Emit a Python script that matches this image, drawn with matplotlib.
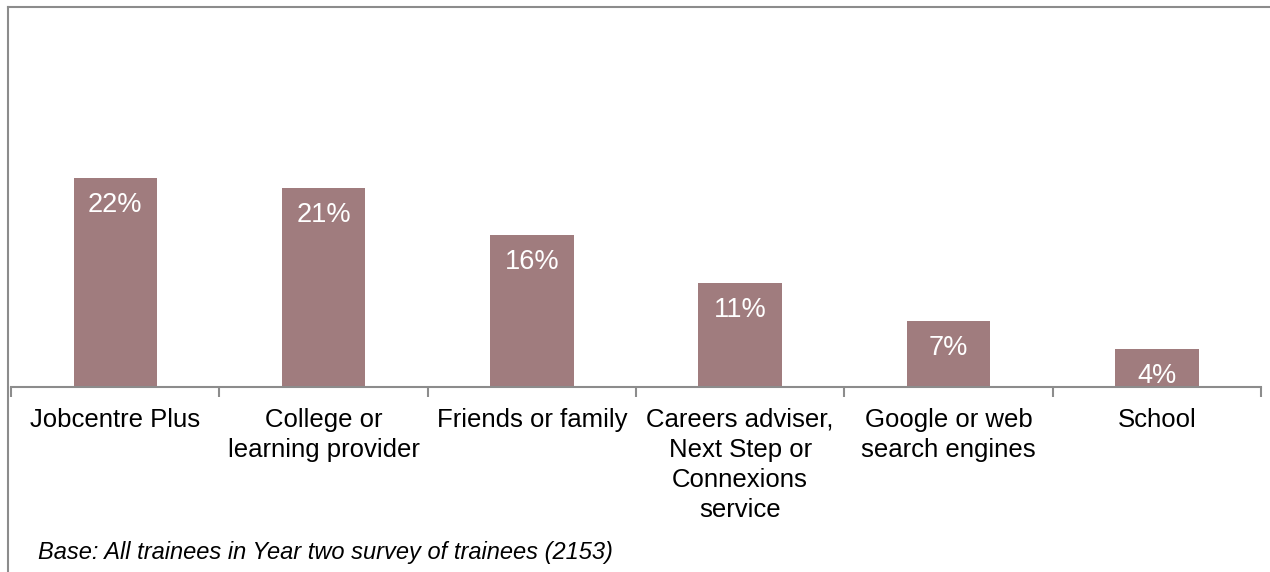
import matplotlib.pyplot as plt
from matplotlib.lines import Line2D
import numpy as np

plt.rcParams['font.family'] = ['Liberation Sans', 'DejaVu Sans']

categories = ["Jobcentre Plus", "College or\nlearning provider", "Friends or family",
              "Careers adviser,\nNext Step or\nConnexions\nservice",
              "Google or web\nsearch engines", "School"]
values = [22, 21, 16, 11, 7, 4]
bar_labels = ["22%", "21%", "16%", "11%", "7%", "4%"]
footnote = "Base: All trainees in Year two survey of trainees (2153)"

bar_color = "#A07C7E"
grey = "#8C8C8C"

fig = plt.figure(figsize=(12.7, 5.72), dpi=100)
ax = fig.add_axes([11/1270, 1 - 387/572, 1250/1270, 380/572])

x = np.arange(len(categories))
ax.bar(x, values, width=0.4, color=bar_color)
ax.set_xlim(-0.5, len(categories) - 0.5)
ax.set_ylim(0, 40)

for xi, v, lab in zip(x, values, bar_labels):
    ax.text(xi, v - 1.5, lab, ha="center", va="top", color="white", fontsize=19.5)

for sp in ["top", "right", "left"]:
    ax.spines[sp].set_visible(False)
ax.spines["bottom"].set_color(grey)
ax.spines["bottom"].set_linewidth(1.5)
ax.set_yticks([])

# category labels at centres, tick marks between categories
ax.set_xticks(x)
ax.set_xticklabels(categories, fontsize=18.5, linespacing=1.32, va="top")
ax.tick_params(axis="x", which="major", length=0, pad=15)
ax.set_xticks(np.arange(-0.5, len(categories)), minor=True)
ax.tick_params(axis="x", which="minor", length=7, width=1.5, color=grey)

fig.text(38/1270, 1 - 553/572, footnote, fontsize=17, style="italic", va="center", ha="left")

# outer frame (left and top)
fig.add_artist(Line2D([8/1270, 8/1270], [0, 1 - 7/572], transform=fig.transFigure, color=grey, lw=1.5))
fig.add_artist(Line2D([8/1270, 1], [1 - 7/572, 1 - 7/572], transform=fig.transFigure, color=grey, lw=1.5))

fig.savefig("out.png", dpi=100, facecolor="white")
